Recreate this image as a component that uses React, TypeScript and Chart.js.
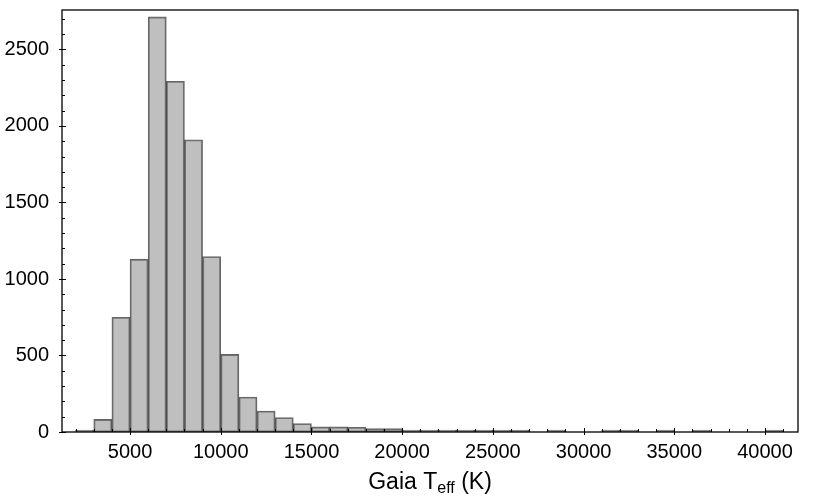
import React, { useEffect, useRef } from "react";
import { Chart, registerables } from "chart.js";

Chart.register(...registerables);

// Histogram bins (lower edge, K) and counts
const binStarts = [
  2000, 3000, 4000, 5000, 6000, 7000, 8000, 9000, 10000, 11000,
  12000, 13000, 14000, 15000, 16000, 17000, 18000, 19000, 20000, 21000,
  22000, 23000, 24000, 25000, 26000, 27000, 28000, 29000, 30000, 31000,
  32000, 33000, 34000, 35000, 36000, 37000, 38000, 39000, 40000,
];
const counts: (number | null)[] = [
  8, 82, 750, 1130, 2713, 2292, 1910, 1147, 507, 229,
  137, 95, 55, 33, 33, 31, 22, 22, 11, 8,
  7, 6, 6, 7, 5, null, 4, null, null, 4,
  3, null, 3, null, 3, null, null, null, 3,
];
const binWidth = 1000;

const xMajorTicks = [5000, 10000, 15000, 20000, 25000, 30000, 35000, 40000];
const yMajorTicks = [0, 500, 1000, 1500, 2000, 2500];
const xMinorStep = 1000;
const yMinorStep = 100;

const X_MIN = 1250;
const X_MAX = 41820;
const Y_MIN = 0;
const Y_MAX = 2758;

const FONT = "'Liberation Sans', Arial, sans-serif";

const mplPlugin = {
  id: "mplDecor",
  afterDraw(chart: any) {
    const { ctx, chartArea: a } = chart;
    const x = chart.scales.x;
    const y = chart.scales.y;
    ctx.save();
    ctx.strokeStyle = "#000";
    ctx.lineWidth = 1;
    // x ticks
    for (let v = Math.ceil(X_MIN / xMinorStep) * xMinorStep; v <= X_MAX; v += xMinorStep) {
      const px = Math.round(x.getPixelForValue(v)) + 0.5;
      const major = xMajorTicks.includes(v);
      ctx.beginPath();
      ctx.moveTo(px, a.bottom - (major ? 4 : 3));
      ctx.lineTo(px, a.bottom + (major ? 3 : 0));
      ctx.stroke();
    }
    // y ticks
    for (let v = Y_MIN; v <= Y_MAX; v += yMinorStep) {
      const py = Math.round(y.getPixelForValue(v)) + 0.5;
      const major = yMajorTicks.includes(v);
      ctx.beginPath();
      ctx.moveTo(a.left - (major ? 3 : 0), py);
      ctx.lineTo(a.left + (major ? 4 : 3), py);
      ctx.stroke();
    }
    // spines
    ctx.lineWidth = 1.3;
    ctx.strokeRect(a.left, a.top, a.right - a.left, a.bottom - a.top);

    // x-axis title with subscript
    const big = "23px " + FONT;
    const small = "16px " + FONT;
    const p1 = "Gaia T";
    const p2 = "eff";
    const p3 = " (K)";
    ctx.fillStyle = "#000";
    ctx.textBaseline = "alphabetic";
    ctx.font = big;
    const w1 = ctx.measureText(p1).width;
    const w3 = ctx.measureText(p3).width;
    ctx.font = small;
    const w2 = ctx.measureText(p2).width;
    const total = w1 + w2 + w3;
    const cx = (a.left + a.right) / 2;
    const base = 489;
    let sx = cx - total / 2;
    ctx.font = big;
    ctx.textAlign = "left";
    ctx.fillText(p1, sx, base);
    sx += w1;
    ctx.font = small;
    ctx.fillText(p2, sx, base + 4);
    sx += w2;
    ctx.font = big;
    ctx.fillText(p3, sx, base);
    ctx.restore();
  },
};

export default function App() {
  const ref = useRef<HTMLCanvasElement | null>(null);
  useEffect(() => {
    if (!ref.current) return;
    const data = binStarts.map((b, i) => ({ x: b + binWidth / 2, y: counts[i] }));
    const chart = new Chart(ref.current, {
      type: "bar",
      data: {
        datasets: [
          {
            data: data as any,
            backgroundColor: "rgba(128,128,128,0.5)",
            borderColor: "rgba(0,0,0,0.6)",
            borderWidth: 1.2,
            borderSkipped: false,
            barPercentage: 1,
            categoryPercentage: 1,
            minBarLength: 2,
          },
        ],
      },
      options: {
        animation: false,
        responsive: false,
        maintainAspectRatio: false,
        layout: { padding: { top: 10, right: 32, left: 0, bottom: 0 } },
        plugins: { legend: { display: false }, tooltip: { enabled: false } },
        scales: {
          x: {
            type: "linear",
            offset: false,
            min: X_MIN,
            max: X_MAX,
            grid: { display: false, drawTicks: false, offset: false },
            border: { display: false },
            ticks: {
              color: "#000",
              font: { family: FONT, size: 20 },
              padding: 8,
              maxRotation: 0,
              autoSkip: false,
              includeBounds: false,
              callback: (v: any) => String(v),
            },
            afterBuildTicks: (s: any) => {
              s.ticks = xMajorTicks.map((v) => ({ value: v }));
            },
            afterFit: (s: any) => {
              s.height = 65;
              s.paddingLeft = 0;
              s.paddingRight = 0;
            },
          },
          y: {
            type: "linear",
            min: Y_MIN,
            max: Y_MAX,
            grid: { display: false, drawTicks: false },
            border: { display: false },
            ticks: {
              color: "#000",
              font: { family: FONT, size: 20 },
              padding: 13,
              includeBounds: false,
              callback: (v: any) => String(v),
            },
            afterBuildTicks: (s: any) => {
              s.ticks = yMajorTicks.map((v) => ({ value: v }));
            },
            afterFit: (s: any) => {
              s.width = 62;
              s.paddingTop = 0;
              s.paddingBottom = 0;
            },
          },
        },
      },
      plugins: [mplPlugin],
    });
    return () => chart.destroy();
  }, []);
  return (
    <div style={{ position: "absolute", left: 0, top: 0, width: 830, height: 497, background: "#fff" }}>
      <canvas ref={ref} width={830} height={497} style={{ display: "block" }} />
    </div>
  );
}
